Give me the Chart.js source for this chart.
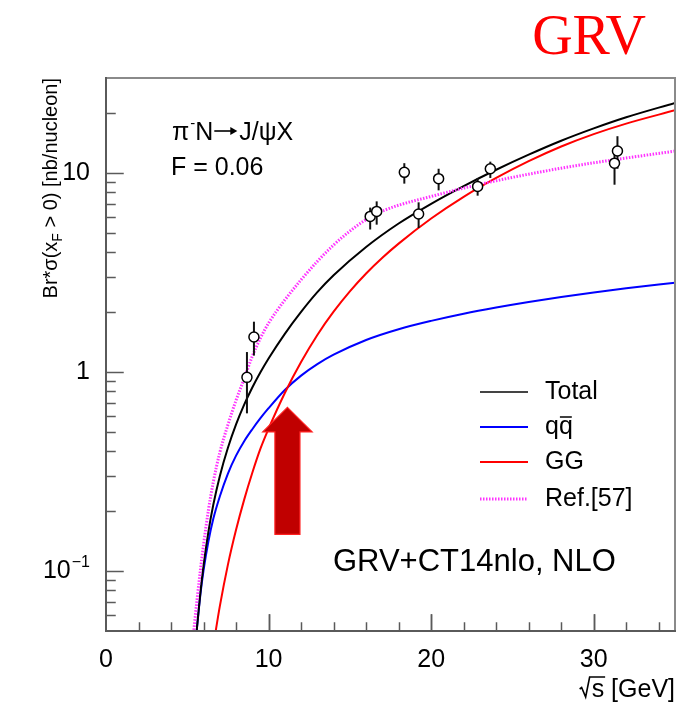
<!DOCTYPE html>
<html><head><meta charset="utf-8">
<script src="https://cdn.jsdelivr.net/npm/chart.js@4.4.1/dist/chart.umd.min.js"></script>
<style>html,body{margin:0;padding:0;background:#fff;}</style>
</head><body>
<canvas id="c" width="692" height="707"></canvas>
<script>
// ---------- DATA ----------
const totalX = [5.5,5.6,5.8,6.0,6.3,6.6,7.0,7.5,8.0,8.5,9.0,9.5,10,11,12,13,14,16,18,20,22,24,26,28,30,32,35];
const totalY = [0.0421,0.0524,0.0771,0.1064,0.1578,0.2153,0.2999,0.4164,0.5458,0.6855,0.8356,0.9966,1.1695,1.556,2.004,2.518,3.062,4.246,5.572,6.998,8.590,10.38,12.36,14.52,16.75,19.05,22.49];

const qqX = [5.5,5.6,5.8,6.0,6.3,6.6,7.0,7.5,8.0,8.5,9.0,9.5,10,11,12,13,14,16,18,20,22,24,26,28,30,32,35];
const qqY = [0.0425,0.0522,0.0755,0.1007,0.141,0.183,0.237,0.309,0.380,0.449,0.516,0.586,0.658,0.8128,0.9594,1.096,1.222,1.449,1.641,1.807,1.963,2.109,2.249,2.382,2.512,2.636,2.810];

const ggX = [6.7,6.75,7.0,7.5,8.0,8.5,9.0,9.5,10,11,12,13,14,15,16,17,18,20,22,24,26,28,30,32,35];
const ggY = [0.0472,0.0501,0.0665,0.1078,0.1612,0.2286,0.3119,0.4121,0.519,0.785,1.122,1.535,2.009,2.541,3.126,3.750,4.416,5.902,7.586,9.441,11.46,13.58,15.67,17.70,20.65];

const refX = [5.35,5.42,5.6,5.8,6.0,6.3,6.6,7.0,7.5,8.0,8.5,9.0,9.5,10,11,12,13,14,15,16,17,18,20,22,24,26,28,30,32,35];
const refY = [0.0457,0.052,0.0718,0.100,0.1355,0.2023,0.280,0.3936,0.5433,0.7211,0.9258,1.20,1.48,1.76,2.30,2.905,3.597,4.345,5.105,5.834,6.427,6.887,7.621,8.395,9.141,9.863,10.57,11.25,11.89,12.88];

const expX     = [8.67,9.10,16.25,16.65,18.35,19.23,20.46,22.86,23.64,31.28,31.46];
const expY     = [0.94,1.50,6.05,6.41,10.07,6.22,9.36,8.56,10.5,11.2,12.9];
const expErrLo = [0.62,1.21,5.2,5.5,8.84,5.29,8.18,7.69,9.44,8.73,10.5];
const expErrHi = [1.26,1.79,6.7,7.2,11.2,7.12,10.5,9.44,11.4,13.5,15.3];

const xTickLabels = [0,10,20,30];
const yTickVals = [0.1,1,10];
const legendLabels = ['Total','qq','GG','Ref.[57]'];

// arrow annotation (data coordinates)
const arrowX = 11.16, arrowTip = 0.664, arrowHeadBase = 0.50, arrowTail = 0.153;
const arrowHeadHalf = 1.52, arrowShaftHalf = 0.77;

// ---------- helpers ----------
const FONT = '"Liberation Sans", Arial, Helvetica, sans-serif';
const zip = (xs, ys) => xs.map((x, i) => ({x, y: ys[i]}));

const COL_TOTAL = '#000000', COL_QQ = '#0000ff', COL_GG = '#ff0000', COL_REF = '#ff33ff';

const custom = {
  id: 'custom',
  beforeDraw(chart) {
    const c = chart.ctx;
    c.save(); c.fillStyle = '#fff'; c.fillRect(0, 0, chart.width, chart.height); c.restore();
  },
  beforeDatasetDraw(chart, args) {
    if (args.index !== 0) return;
    const c = chart.ctx, xs = chart.scales.x, ys = chart.scales.y;
    c.save();
    c.strokeStyle = '#111'; c.lineWidth = 2;
    expX.forEach((x, i) => {
      const px = xs.getPixelForValue(x);
      c.beginPath();
      c.moveTo(px, ys.getPixelForValue(expErrLo[i]));
      c.lineTo(px, ys.getPixelForValue(expErrHi[i]));
      c.stroke();
    });
    c.restore();
  },
  afterDatasetsDraw(chart) {
    const c = chart.ctx, xs = chart.scales.x, ys = chart.scales.y, a = chart.chartArea;
    // arrow
    c.save();
    const ax = xs.getPixelForValue(arrowX);
    const hw = xs.getPixelForValue(arrowX + arrowHeadHalf) - ax;
    const sw = xs.getPixelForValue(arrowX + arrowShaftHalf) - ax;
    const tip = ys.getPixelForValue(arrowTip), hb = ys.getPixelForValue(arrowHeadBase), tl = ys.getPixelForValue(arrowTail);
    c.beginPath();
    c.moveTo(ax, tip); c.lineTo(ax + hw, hb); c.lineTo(ax + sw, hb); c.lineTo(ax + sw, tl);
    c.lineTo(ax - sw, tl); c.lineTo(ax - sw, hb); c.lineTo(ax - hw, hb); c.closePath();
    c.fillStyle = '#c00000'; c.fill();
    c.strokeStyle = '#ff2020'; c.lineWidth = 1.2; c.stroke();
    c.restore();

    // frame
    c.save();
    c.lineCap = 'square';
    c.strokeStyle = '#8a8a8a'; c.lineWidth = 2;
    c.beginPath(); c.moveTo(a.left, a.top); c.lineTo(a.right, a.top); c.lineTo(a.right, a.bottom); c.stroke();
    c.strokeStyle = '#5a5a5a'; c.lineWidth = 2;
    c.beginPath(); c.moveTo(a.left, a.top); c.lineTo(a.left, a.bottom); c.lineTo(a.right, a.bottom); c.stroke();

    // y ticks (inward)
    c.lineWidth = 1.5; c.strokeStyle = '#5a5a5a';
    for (let e = -2; e <= 1; e++) {
      for (let k = 1; k <= 9; k++) {
        const v = k * Math.pow(10, e);
        if (v <= ys.min * 1.0001 || v >= ys.max * 0.9999) continue;
        const py = Math.round(ys.getPixelForValue(v)) + 0.5;
        const len = k === 1 ? 17 : 9;
        c.beginPath(); c.moveTo(a.left, py); c.lineTo(a.left + len, py); c.stroke();
      }
    }
    // x ticks (inward)
    for (let v = 2; v < 35; v += 2) {
      const px = Math.round(xs.getPixelForValue(v)) + 0.5;
      const len = v % 10 === 0 ? 16 : 8;
      c.beginPath(); c.moveTo(px, a.bottom); c.lineTo(px, a.bottom - len); c.stroke();
    }
    for (const v of xTickLabels) {
      if (v === 0) continue;
      const px = Math.round(xs.getPixelForValue(v)) + 0.5;
      c.beginPath(); c.moveTo(px, a.bottom); c.lineTo(px, a.bottom - 16); c.stroke();
    }

    // tick labels
    c.fillStyle = '#000';
    c.font = '25px ' + FONT;
    c.textBaseline = 'middle'; c.textAlign = 'center';
    xTickLabels.forEach(v => c.fillText(String(v), xs.getPixelForValue(v), a.bottom + 29));
    c.textAlign = 'right';
    yTickVals.forEach(v => {
      const py = ys.getPixelForValue(v);
      if (v === 0.1) {
        c.font = '16px ' + FONT;
        const w1 = c.measureText('\u22121').width;
        c.textAlign = 'left';
        c.fillText('\u22121', 90 - w1, py - 8);
        c.font = '25px ' + FONT;
        c.textAlign = 'right';
        c.fillText('10', 90 - w1 - 1, py);
      } else {
        c.fillText(String(v), 90, py);
      }
    });

    // x title with radical sign
    c.font = '25px ' + FONT;
    c.textAlign = 'left'; c.textBaseline = 'alphabetic';
    const xt = 's [GeV]';
    const xtw = c.measureText(xt).width;
    const sx = a.right - xtw, base = 697;
    c.fillText(xt, sx, base);
    const sw1 = c.measureText('s').width;
    c.lineWidth = 1.6; c.strokeStyle = '#000'; c.lineJoin = 'miter'; c.lineCap = 'butt';
    c.beginPath();
    c.moveTo(sx - 12, base - 8); c.lineTo(sx - 10, base - 9.5); c.lineTo(sx - 6, base);
    c.lineTo(sx - 2, base - 20); c.lineTo(sx + sw1 + 1, base - 20);
    c.stroke();

    // y title (rotated)
    c.save();
    c.translate(57, a.top);
    c.rotate(-Math.PI / 2);
    const pieces = [
      {t: 'Br*\u03c3(x', s: 20, dy: 0},
      {t: 'F', s: 14, dy: 5},
      {t: ' > 0) [nb/nucleon]', s: 20, dy: 0}
    ];
    let tot = 0;
    pieces.forEach(p => { c.font = p.s + 'px ' + FONT; p.w = c.measureText(p.t).width; tot += p.w; });
    let cx = -tot;
    c.textAlign = 'left';
    pieces.forEach(p => { c.font = p.s + 'px ' + FONT; c.fillText(p.t, cx, p.dy); cx += p.w; });
    c.restore();

    // process text
    c.textAlign = 'left'; c.textBaseline = 'alphabetic';
    c.font = '25px ' + FONT;
    let tx = 172;
    c.fillText('\u03c0', tx, 140); tx += c.measureText('\u03c0').width + 1;
    c.font = '15px ' + FONT;
    c.fillText('-', tx, 128); tx += c.measureText('-').width;
    c.font = '25px ' + FONT;
    c.fillText('N', tx, 140); tx += c.measureText('N').width + 1;
    // arrow glyph
    c.lineWidth = 1.6; c.strokeStyle = '#000';
    c.beginPath(); c.moveTo(tx, 131); c.lineTo(tx + 20, 131); c.stroke();
    c.beginPath(); c.moveTo(tx + 23, 131); c.lineTo(tx + 16, 127); c.lineTo(tx + 16, 135); c.closePath();
    c.fillStyle = '#000'; c.fill();
    tx += 25;
    c.fillText('J/\u03c8X', tx, 140);
    c.fillText('F = 0.06', 171, 175);

    // GRV+CT14nlo label
    c.font = '31px ' + FONT;
    c.fillText('GRV+CT14nlo, NLO', 333, 571);

    // legend
    const rows = [392, 427, 462, 499];
    const cols = [COL_TOTAL, COL_QQ, COL_GG, COL_REF];
    rows.forEach((ry, i) => {
      c.save();
      c.strokeStyle = cols[i];
      c.lineWidth = i === 3 ? 3 : 2;
      if (i === 3) c.setLineDash([1.5, 1.5]);
      if (i === 0) c.strokeStyle = '#444';
      c.beginPath(); c.moveTo(480, ry); c.lineTo(528, ry); c.stroke();
      c.restore();
      c.font = '25px ' + FONT;
      c.textBaseline = 'middle'; c.fillStyle = '#000';
      c.fillText(legendLabels[i], 545, ry);
      if (i === 1) {
        const wq = c.measureText('q').width;
        c.lineWidth = 1.5; c.strokeStyle = '#000';
        c.beginPath(); c.moveTo(545 + wq + 1, ry - 10); c.lineTo(545 + 2 * wq - 1, ry - 10); c.stroke();
      }
    });

    // GRV header
    c.font = '56px "Liberation Serif", "Times New Roman", serif';
    c.fillStyle = '#ff0000'; c.textAlign = 'center'; c.textBaseline = 'alphabetic';
    c.fillText('GRV', 589, 54);
    c.restore();
  }
};

new Chart(document.getElementById('c'), {
  type: 'scatter',
  data: {
    datasets: [
      {label: 'data', data: zip(expX, expY), showLine: false, pointRadius: 5,
       pointBackgroundColor: '#fff', pointBorderColor: '#000', pointBorderWidth: 1.5},
      {label: 'Ref.[57]', data: zip(refX, refY), showLine: true, borderColor: COL_REF, borderWidth: 3,
       borderDash: [1.5, 1.5], pointRadius: 0, cubicInterpolationMode: 'monotone', clip: 0},
      {label: 'Total', data: zip(totalX, totalY), showLine: true, borderColor: COL_TOTAL, borderWidth: 2,
       pointRadius: 0, cubicInterpolationMode: 'monotone', clip: 0},
      {label: 'GG', data: zip(ggX, ggY), showLine: true, borderColor: COL_GG, borderWidth: 2,
       pointRadius: 0, cubicInterpolationMode: 'monotone', clip: 0},
      {label: 'qq', data: zip(qqX, qqY), showLine: true, borderColor: COL_QQ, borderWidth: 2,
       pointRadius: 0, cubicInterpolationMode: 'monotone', clip: 0}
    ]
  },
  options: {
    responsive: false, animation: false, events: [],
    layout: {padding: {left: 106, right: 17, top: 78, bottom: 76}},
    plugins: {legend: {display: false}, tooltip: {enabled: false}},
    scales: {
      x: {type: 'linear', min: 0, max: 35, display: false},
      y: {type: 'logarithmic', min: 0.05, max: 30, display: false}
    }
  },
  plugins: [custom]
});
</script>
</body></html>
